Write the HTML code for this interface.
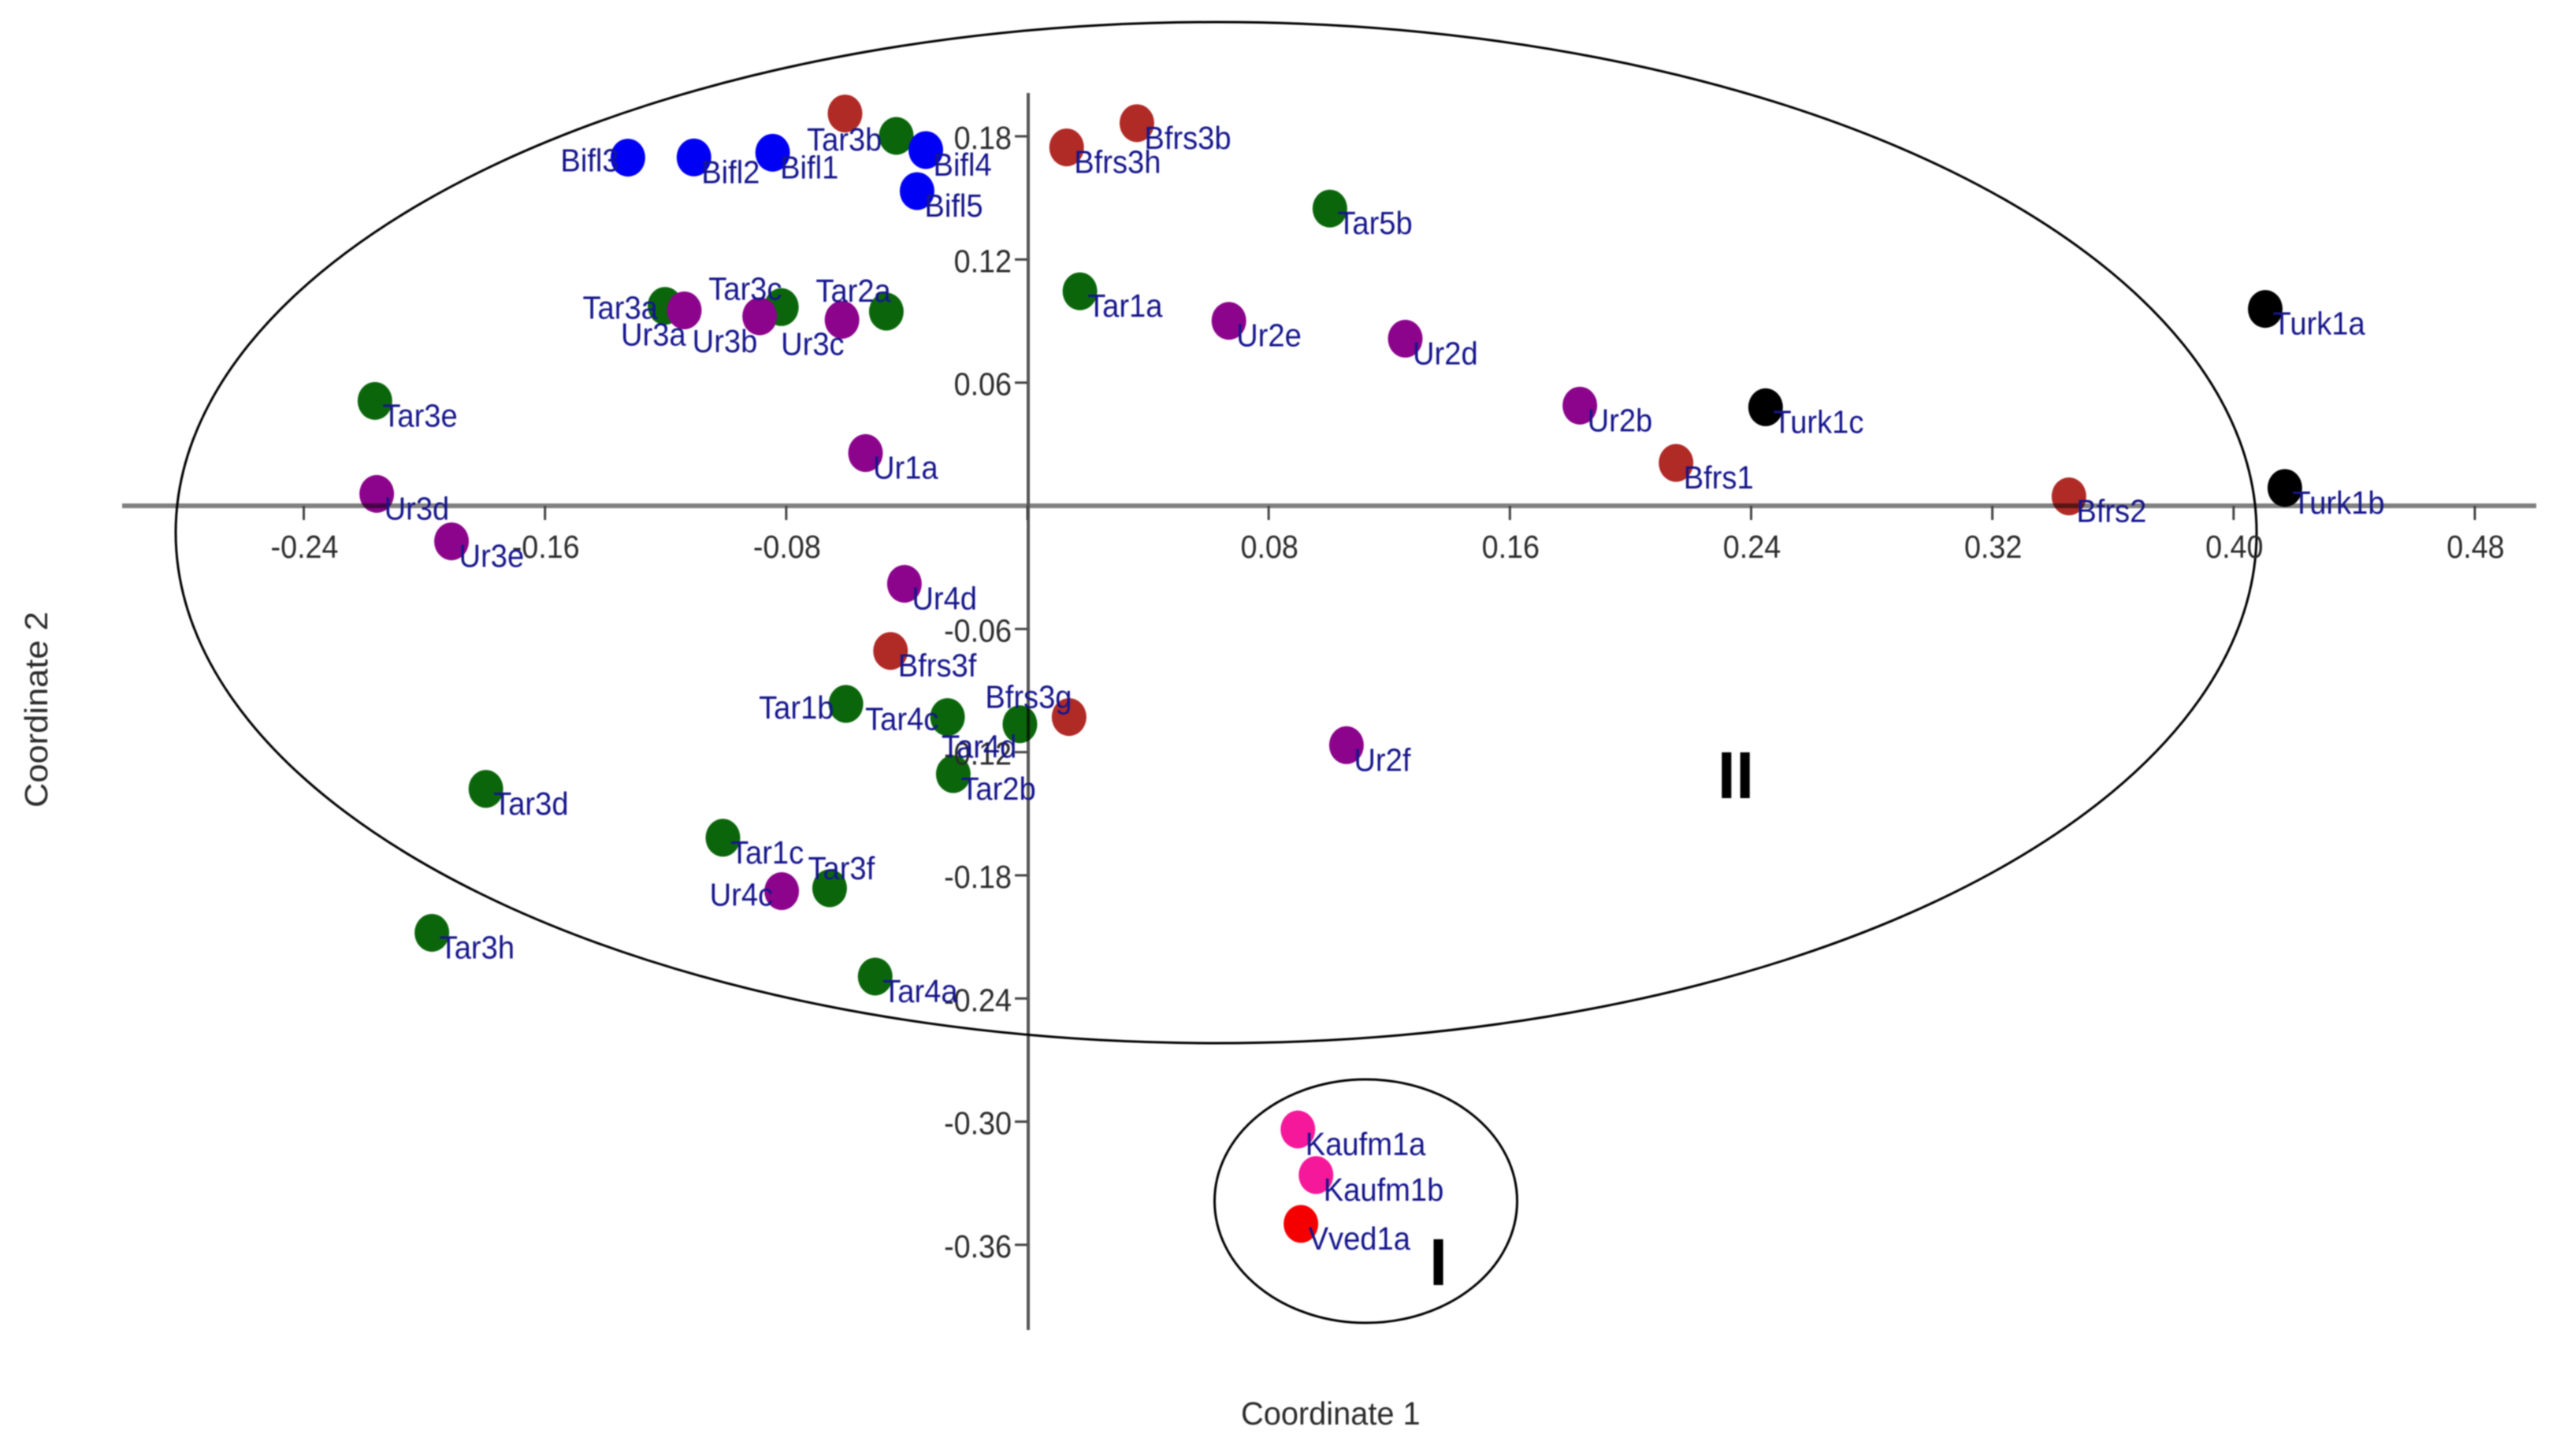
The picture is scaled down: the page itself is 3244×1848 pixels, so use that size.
<!DOCTYPE html>
<html lang="en">
<head>
<meta charset="utf-8">
<title>Coordinate plot</title>
<style>
html,body{margin:0;padding:0;background:#fff;width:3244px;height:1848px;overflow:hidden}
svg{display:block;filter:blur(.7px)}
text{font-family:"Liberation Sans",sans-serif}
.tick-label{font-size:41px;fill:#2b2b2b}
.point-label{font-size:41px;fill:#16168c}
.axis-title{font-size:41px;fill:#2b2b2b}
.roman{font-size:84px;font-weight:700;fill:#000}
</style>
</head>
<body>
<svg id="chart" xmlns="http://www.w3.org/2000/svg" width="3244" height="1848" viewBox="0 0 3244 1848">
<rect x="0" y="0" width="3244" height="1848" fill="#fff"/>
<g id="dots"></g>
<g id="axes" style="mix-blend-mode:multiply"></g>
<ellipse cx="1543.5" cy="676" rx="1320.5" ry="648" fill="none" stroke="#000" stroke-width="3"/>
<ellipse cx="1733.5" cy="1524.5" rx="192" ry="154.5" fill="none" stroke="#000" stroke-width="3"/>
<g id="ticklabels"></g>
<g id="labels"></g>
<text class="roman" x="2203" y="1013" text-anchor="middle">II</text>
<text class="roman" x="1825.5" y="1631" text-anchor="middle">I</text>
<text class="axis-title" transform="translate(1575,1808) scale(.97,1)">Coordinate 1</text>
<text class="axis-title" transform="translate(60,1025) rotate(-90) scale(1.06,1)">Coordinate 2</text>
</svg>
<script>
// Chart data
const xTicks = [-0.24, -0.16, -0.08, 0.08, 0.16, 0.24, 0.32, 0.40, 0.48];
const yTicks = [0.18, 0.12, 0.06, -0.06, -0.12, -0.18, -0.24, -0.30, -0.36];

const tarNames = ['Tar1a','Tar1b','Tar1c','Tar2a','Tar2b','Tar3a','Tar3b','Tar3c','Tar3d','Tar3e','Tar3f','Tar3h','Tar4a','Tar4c','Tar4d','Tar5b'];
const tarX = [0.0174,-0.0602,-0.1010,-0.0468,-0.0246,-0.1202,-0.0435,-0.0816,-0.1796,-0.2164,-0.0656,-0.1975,-0.0505,-0.0265,-0.0025,0.1003];
const tarY = [0.1045,-0.0965,-0.1617,0.0946,-0.1307,0.0974,0.1802,0.0968,-0.1379,0.0511,-0.1863,-0.2080,-0.2293,-0.1029,-0.1064,0.1448];

const bfrsNames = ['','Bfrs1','Bfrs2','Bfrs3b','Bfrs3f','Bfrs3g','Bfrs3h'];
const bfrsX = [-0.0605,0.2151,0.3454,0.0363,-0.0454,0.0138,0.0130];
const bfrsY = [0.1911,0.0209,0.0046,0.1864,-0.0707,-0.1029,0.1746];

const urNames = ['Ur1a','Ur2b','Ur2d','Ur2e','Ur2f','Ur3a','Ur3b','Ur3c','Ur3d','Ur3e','Ur4c','Ur4d'];
const urX = [-0.0537,0.1832,0.1253,0.0668,0.1058,-0.1138,-0.0888,-0.0615,-0.2158,-0.1910,-0.0815,-0.0408];
const urY = [0.0257,0.0488,0.0814,0.0901,-0.1166,0.0952,0.0923,0.0906,0.0058,-0.0173,-0.1877,-0.0380];

const biflNames = ['Bifl1','Bifl2','Bifl3','Bifl4','Bifl5'];
const biflX = [-0.0845,-0.1106,-0.1325,-0.0337,-0.0366];
const biflY = [0.1720,0.1697,0.1696,0.1733,0.1533];

const turkNames = ['Turk1a','Turk1b','Turk1c'];
const turkX = [0.4105,0.4170,0.2448];
const turkY = [0.0959,0.0087,0.0480];

const kaufmNames = ['Kaufm1a','Kaufm1b'];
const kaufmX = [0.0897,0.0957];
const kaufmY = [-0.3038,-0.3260];

const vvedNames = ['Vved1a'];
const vvedX = [0.0907];
const vvedY = [-0.3498];

// Axis functions
const SVG_NS = 'http://www.w3.org/2000/svg';
function xScale(v){ return 1304 + v * 3827; }
function yScale(v){ return 642 - v * 2605.5; }
function fmt(v){ return v.toFixed(2); }

// Label placement relative to its dot (default is below-right)
const labelOffsets = {
  Bifl3:[-83,16], Tar3b:[-111,17], Tar3a:[-102,15], Ur3a:[-78,43], Ur3b:[-83,44],
  Tar3c:[-90,-11], Ur3c:[-75,43], Tar2a:[-87,-14], Tar1b:[-108,17], Tar4c:[-102,15],
  Bfrs3g:[-104,-13], Tar4d:[-97,41], Tar3f:[-25,-13], Ur4c:[-89,17]
};
const LABEL_SQUEEZE = 0.93;
const TICK_SQUEEZE = 0.92;

const axesG = document.getElementById('axes');
const dotsG = document.getElementById('dots');
const labelsG = document.getElementById('labels');
const tickLabelsG = document.getElementById('ticklabels');

function addLine(x1, y1, x2, y2, stroke, width, name){
  const el = document.createElementNS(SVG_NS, 'line');
  el.setAttribute('x1', x1);
  el.setAttribute('y1', y1);
  el.setAttribute('x2', x2);
  el.setAttribute('y2', y2);
  el.setAttribute('stroke', stroke);
  el.setAttribute('stroke-width', width);
  
  
  axesG.appendChild(el);
}

function addTickLabel(str, x, y, anchor, name){
  const el = document.createElementNS(SVG_NS, 'text');
  el.textContent = str;
  el.setAttribute('class', 'tick-label');
  el.setAttribute('text-anchor', anchor);
  el.setAttribute('transform', 'translate(' + x + ',' + y + ') scale(' + TICK_SQUEEZE + ',1)');
  
  
  tickLabelsG.appendChild(el);
}

// Axis lines
addLine(155, yScale(0), 3219, yScale(0), '#808080', 6, 'x-axis-line');
addLine(xScale(0) + 1, 118, xScale(0) + 1, 1688, '#555555', 4, 'y-axis-line');

xTicks.forEach(function(t){
  addLine(xScale(t), yScale(0), xScale(t), yScale(0) + 18, '#444444', 3, 'x-tick');
  addTickLabel(fmt(t), xScale(t) + 1, 708, 'middle', 'x-tick-label');
});
addLine(xScale(0), yScale(0), xScale(0), yScale(0) + 18, '#444444', 3, 'x-tick');
yTicks.forEach(function(t){
  addLine(xScale(0) - 16, yScale(t), xScale(0), yScale(t), '#444444', 3, 'y-tick');
  addTickLabel(fmt(t), 1284, yScale(t) + 16, 'end', 'y-tick-label');
});

function drawSeries(names, xs, ys, color, group){
  names.forEach(function(n, i){
    const cx = xScale(xs[i]);
    const cy = yScale(ys[i]);
    const dot = document.createElementNS(SVG_NS, 'ellipse');
    dot.setAttribute('cx', cx);
    dot.setAttribute('cy', cy);
    dot.setAttribute('rx', 22);
    dot.setAttribute('ry', 24);
    dot.setAttribute('fill', color);
    
    
    dotsG.appendChild(dot);
    if (!n) return;
    const off = labelOffsets[n] || [12, 31];
    const lab = document.createElementNS(SVG_NS, 'text');
    lab.textContent = n;
    lab.setAttribute('class', 'point-label');
    lab.setAttribute('transform', 'translate(' + (cx + off[0] - 2.5) + ',' + (cy + off[1] + 1.5) + ') scale(' + LABEL_SQUEEZE + ',1)');
    
    
    labelsG.appendChild(lab);
  });
}

drawSeries(tarNames, tarX, tarY, '#0b660b', 'tar');
drawSeries(bfrsNames, bfrsX, bfrsY, '#b02a26', 'bfrs');
drawSeries(urNames, urX, urY, '#8b048b', 'ur');
drawSeries(biflNames, biflX, biflY, '#0000f5', 'bifl');
drawSeries(turkNames, turkX, turkY, '#000000', 'turk');
drawSeries(kaufmNames, kaufmX, kaufmY, '#f5189a', 'kaufm');
drawSeries(vvedNames, vvedX, vvedY, '#f50000', 'vved');
</script>
</body>
</html>
